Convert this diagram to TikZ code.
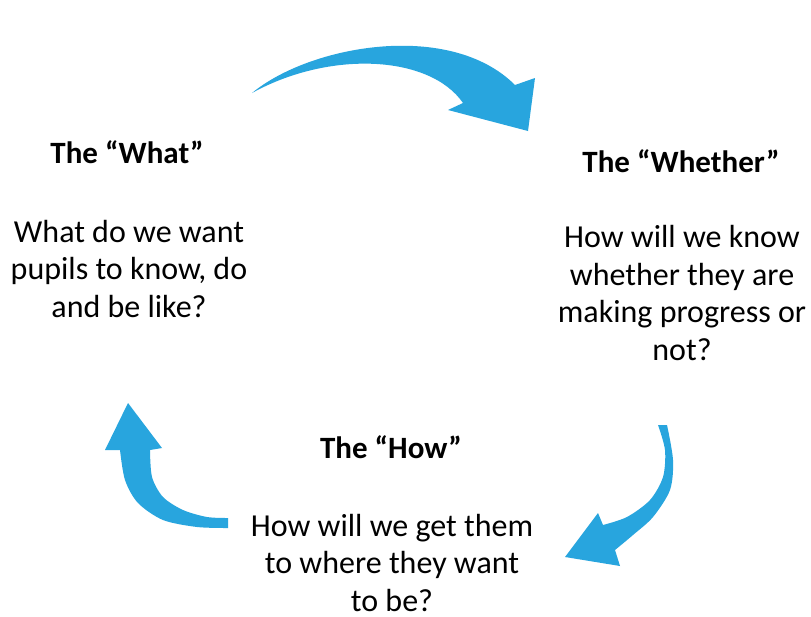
\documentclass[tikz,border=0pt]{standalone}
\usepackage{fontspec}
\setmainfont{Carlito}
\definecolor{arrblue}{RGB}{40,165,222}
\begin{document}
\begin{tikzpicture}[x=1pt,y=-1pt,
  arr/.style={fill=arrblue},
  ttl/.style={font=\fontsize{31}{37.5}\selectfont\bfseries, inner sep=0pt, anchor=base},
  body/.style={font=\fontsize{32}{37.5}\selectfont, inner sep=0pt, align=center, anchor=base}]
\useasboundingbox[fill=white] (0,0) rectangle (811,616);
% top arrow
\fill[arr] (252,93) .. controls (310,45) and (450,20) .. (515,85) -- (535,78) -- (528,131) -- (448,110) -- (463,103) .. controls (430,55) and (330,50) .. (252,93) -- cycle;
% right arrow
\fill[arr] (658,425) -- plot[smooth] coordinates {(667,425) (673,460) (670,490) (653,517) (633,535) (615,550)} -- (620,566) -- (565,557) -- (598,513) -- plot[smooth] coordinates {(603,525) (627,517) (650,500) (663,477) (665,450) (658,425)} -- cycle;
% left arrow
\fill[arr] (128,403) -- (162,448) -- plot[smooth] coordinates {(150,450) (152,477) (163,497) (183,510) (207,517) (228,518)} -- plot[smooth] coordinates {(228,528) (197,527) (163,520) (138,503) (125,480) (120,450)} -- (105,450) -- cycle;
% texts (body nodes anchored at the baseline of their last line)
\node[ttl] (whatT) at (127,163) {The “What”};
\node[body] (whatB) at (129,317) {What do we want\\pupils to know, do\\and be like?};
\node[ttl] (whetherT) at (681,172) {The “Whether”};
\node[body] (whetherB) at (682,360) {How will we know\\whether they are\\making progress or\\not?};
\node[ttl] (howT) at (391,458) {The “How”};
\node[body] (howB) at (392,611) {How will we get them\\to where they want\\to be?};
\end{tikzpicture}
\end{document}
